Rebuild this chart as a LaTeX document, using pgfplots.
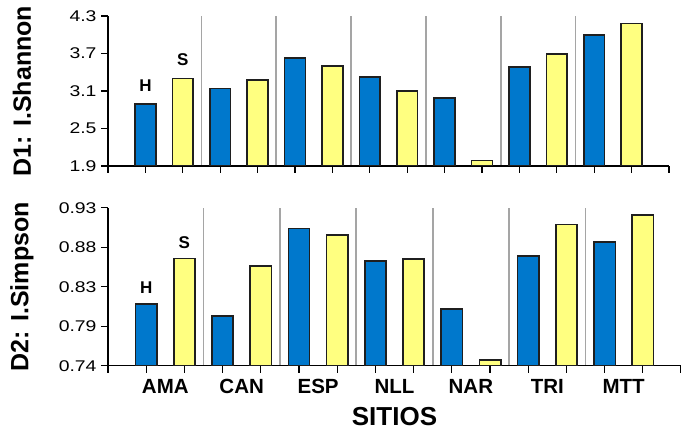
\documentclass[border=0pt]{standalone}
\usepackage{fontspec}
\setmainfont{Liberation Sans}
\newfontfamily\tickfont[FakeStretch=1.25]{Liberation Sans}
\usepackage{pgfplots}
\pgfplotsset{compat=1.18}
\definecolor{barblue}{RGB}{0,120,204}
\definecolor{baryellow}{RGB}{255,255,128}
\definecolor{sepgray}{RGB}{165,165,165}
\tikzset{hs/.style={font=\bfseries\fontsize{17bp}{19bp}\selectfont, anchor=base}}
\pgfplotsset{
  common/.style={
    scale only axis,
    axis x line=bottom, axis y line=left,
    axis line style={-, line width=1.3bp, black},
    xmin=-1, xmax=14,
    tick align=outside,
    major tick length=7bp,
    tick style={line width=1.3bp, black},
    xtick={-1,0,1,2,3,4,5,6,7,8,9,10,11,12,13,14},
    xticklabels={},
    minor xtick={1.5,3.5,5.5,7.5,9.5,11.5},
    minor tick length=0pt,
    xminorgrids=true,
    minor grid style={draw=sepgray, line width=1.8bp},
    yticklabel style={font=\tickfont\fontsize{15.5bp}{18bp}\selectfont, xshift=-1bp},
    every axis y label/.style={at={(axis description cs:0,0.5)}, xshift=-86bp, rotate=90, anchor=center, font=\bfseries\fontsize{25bp}{28bp}\selectfont},
  },
  barH/.style={ybar, bar width=0.56, fill=barblue, draw=black!88, line width=1.6bp},
  barS/.style={ybar, bar width=0.56, fill=baryellow, draw=black!88, line width=1.6bp},
}
\begin{document}
\begin{tikzpicture}
\useasboundingbox (0bp,0bp) rectangle (681bp,432bp);
% top panel
\begin{axis}[common,
  at={(108bp,266bp)}, anchor=south west,
  width=561bp, height=150bp,
  ymin=1.9, ymax=4.3,
  ytick={1.9,2.5,3.1,3.7,4.3},
  yticklabels={1.9,2.5,3.1,3.7,4.3},
  ylabel={D1: I.Shannon},
]
\addplot[barH] coordinates {(0,2.89) (2,3.14) (4,3.63) (6,3.32) (8,2.99) (10,3.48) (12,4.00)};
\addplot[barS] coordinates {(1,3.30) (3,3.28) (5,3.50) (7,3.10) (9,1.985) (11,3.69) (13,4.18)};
\node[hs, yshift=13bp] at (axis cs:0,2.89) {H};
\node[hs, yshift=13bp] at (axis cs:1,3.30) {S};
\end{axis}
% bottom panel
\begin{axis}[common,
  at={(108bp,66.3bp)}, anchor=south west,
  width=573bp, height=158bp,
  ymin=0.74, ymax=0.93,
  ytick={0.74,0.7875,0.835,0.8825,0.93},
  yticklabels={0.74,0.79,0.83,0.88,0.93},
  extra x ticks={0.5,2.5,4.5,6.5,8.5,10.5,12.5},
  extra x tick labels={AMA,CAN,ESP,NLL,NAR,TRI,MTT},
  extra x tick style={major tick length=0pt, grid=none,
    xticklabel style={font=\bfseries\fontsize{20.5bp}{23bp}\selectfont, anchor=base, yshift=-27.6bp}},
  xlabel={SITIOS},
  every axis x label/.style={at={(axis description cs:0.5,0)}, anchor=base, yshift=-59.3bp, font=\bfseries\fontsize{26bp}{28bp}\selectfont},
  ylabel={D2: I.Simpson},
]
\addplot[barH] coordinates {(0,0.814) (2,0.800) (4,0.905) (6,0.866) (8,0.808) (10,0.872) (12,0.889)};
\addplot[barS] coordinates {(1,0.869) (3,0.860) (5,0.897) (7,0.868) (9,0.747) (11,0.910) (13,0.921)};
\node[hs, yshift=11bp] at (axis cs:0,0.814) {H};
\node[hs, yshift=10bp] at (axis cs:1,0.869) {S};
\end{axis}
\end{tikzpicture}
\end{document}
